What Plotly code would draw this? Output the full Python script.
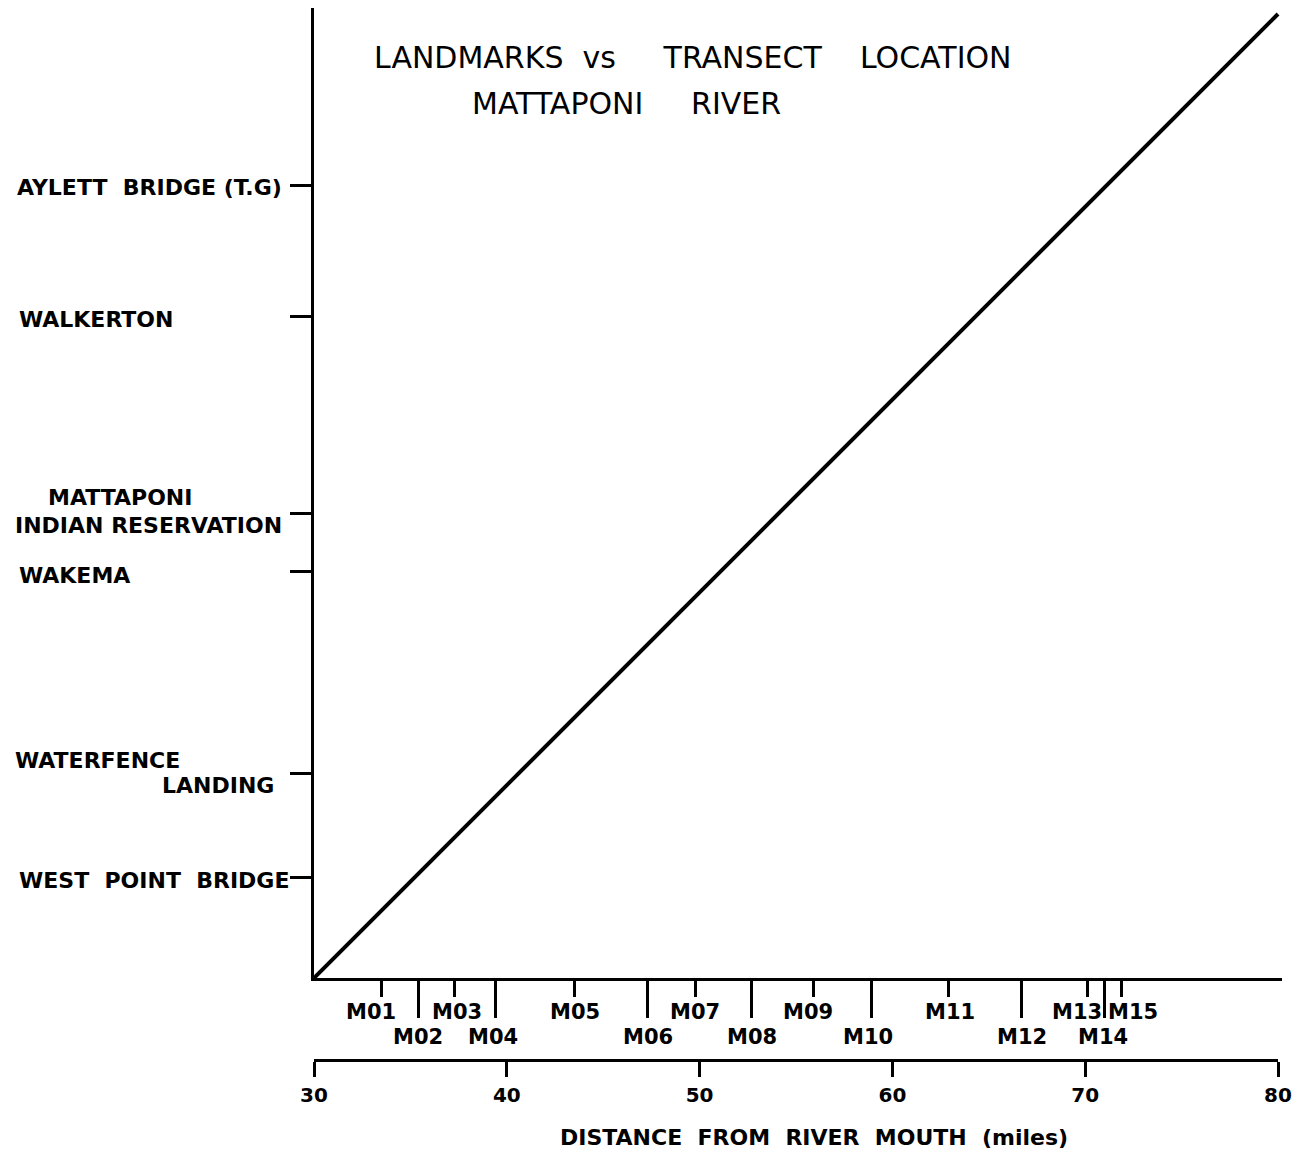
import plotly.graph_objects as go

# ---------------- data ----------------
transect_names = ["M01", "M02", "M03", "M04", "M05", "M06", "M07", "M08",
                  "M09", "M10", "M11", "M12", "M13", "M14", "M15"]
transect_miles = [33.5, 35.4, 37.3, 39.4, 43.5, 47.3, 49.8, 52.7,
                  55.9, 58.9, 62.9, 66.7, 70.1, 71.0, 71.9]

landmark_names = ["WEST POINT BRIDGE", "WATERFENCE LANDING", "WAKEMA",
                  "MATTAPONI INDIAN RESERVATION", "WALKERTON", "AYLETT BRIDGE (T.G)"]
landmark_miles = [35.2, 40.6, 51.1, 54.1, 64.3, 71.1]

# 1:1 relation line (transect location vs landmark location)
line_miles_x = [30, 80]
line_miles_y = [30, 80]

distance_ticks = [30, 40, 50, 60, 70, 80]

# ---------------- styling ----------------
W, H = 1297, 1158
L_PX, R_PX = 314, 1282       # plot area left/right (pixels)
TOP_PX, BOT_PX = 8, 1060     # plot area top/bottom (pixels)
AXIS_PX = 978                # main x axis line
PX_PER_MILE = 19.28

plot_w = R_PX - L_PX
plot_h = BOT_PX - TOP_PX
ydom0 = (BOT_PX - AXIS_PX) / plot_h
x_max = 30 + plot_w / PX_PER_MILE
y_max = 30 + (AXIS_PX - TOP_PX) / PX_PER_MILE
x2_dom1 = (80 - 30) * PX_PER_MILE / plot_w

FONT = "DejaVu Sans"
BLACK = "black"
CLEAR = "rgba(0,0,0,0)"

short_idx = [i for i in range(len(transect_names)) if i % 2 == 0]
long_idx = [i for i in range(len(transect_names)) if i % 2 == 1]
label_xshift = [-10, 0, 2, -2, 1, 0, -1, 0, -5, -3, 2, 0, -10, -1, 11]

fig = go.Figure()

fig.add_trace(go.Scatter(x=line_miles_x, y=line_miles_y, mode="lines",
                         line=dict(color=BLACK, width=4), hoverinfo="skip",
                         showlegend=False))
# invisible anchors so the extra axes are drawn
for ax in ["x2", "x3", "x4"]:
    fig.add_trace(go.Scatter(x=[30], y=[30], xaxis=ax, yaxis="y", mode="markers",
                             marker=dict(opacity=0), hoverinfo="skip", showlegend=False))

common = dict(showgrid=False, zeroline=False, automargin=False)

fig.update_layout(
    width=W, height=H,
    margin=dict(l=L_PX, r=W - R_PX, t=TOP_PX, b=H - BOT_PX, pad=0, autoexpand=False),
    paper_bgcolor="white", plot_bgcolor=CLEAR,
    showlegend=False,
    xaxis=dict(range=[30, x_max], domain=[0, 1], anchor="y", showline=True,
               linecolor=BLACK, linewidth=3, ticks="", showticklabels=False, **common),
    xaxis3=dict(range=[30, x_max], overlaying="x", anchor="y", side="bottom",
                showline=False, ticks="outside", ticklen=18, tickwidth=3,
                tickcolor=BLACK, tickmode="array",
                tickvals=[transect_miles[i] for i in short_idx],
                showticklabels=False, **common),
    xaxis4=dict(range=[30, x_max], overlaying="x", anchor="y", side="bottom",
                showline=False, ticks="outside", ticklen=39, tickwidth=3,
                tickcolor=BLACK, tickmode="array",
                tickvals=[transect_miles[i] for i in long_idx],
                showticklabels=False, **common),
    xaxis2=dict(range=[30, 80], domain=[0, x2_dom1], anchor="free", position=0,
                showline=True, linecolor=BLACK, linewidth=3,
                ticks="outside", ticklen=15, tickwidth=3, tickcolor=BLACK,
                tickmode="array", tickvals=distance_ticks,
                ticktext=[str(v) for v in distance_ticks],
                ticklabelstandoff=1,
                tickfont=dict(family=FONT, size=20, color=BLACK, weight="bold"),
                **common),
    yaxis=dict(range=[30, y_max], domain=[ydom0, 1], anchor="x", showline=True,
               linecolor=BLACK, linewidth=3, ticks="outside", ticklen=21,
               tickwidth=3, tickcolor=BLACK, tickmode="array",
               tickvals=landmark_miles, showticklabels=False, **common),
)

ann = []
# transect labels
for i, (name, m) in enumerate(zip(transect_names, transect_miles)):
    row_center = 1012 if i % 2 == 0 else 1037
    ann.append(dict(x=m, xref="x", y=ydom0, yref="paper", text=name,
                    showarrow=False, xanchor="center", yanchor="middle",
                    xshift=label_xshift[i], yshift=-(row_center - AXIS_PX),
                    font=dict(family=FONT, size=21, color=BLACK, weight="bold")))

# landmark labels: (text line, left px, yshift px)
label_layout = {
    "WEST POINT BRIDGE": [("WEST  POINT  BRIDGE", 17, -3)],
    "WATERFENCE LANDING": [("WATERFENCE", 13, 13), ("LANDING", 160, -12)],
    "WAKEMA": [("WAKEMA", 17, -4)],
    "MATTAPONI INDIAN RESERVATION": [("MATTAPONI", 46, 16),
                                     ("INDIAN RESERVATION", 13, -12)],
    "WALKERTON": [("WALKERTON", 17, -3)],
    "AYLETT BRIDGE (T.G)": [("AYLETT  BRIDGE (T.G)", 15, -2)],
}
for name, m in zip(landmark_names, landmark_miles):
    for txt, left, dy in label_layout[name]:
        ann.append(dict(x=0, xref="paper", y=m, yref="y", text=txt,
                        showarrow=False, xanchor="left", yanchor="middle",
                        xshift=left - L_PX, yshift=dy,
                        font=dict(family=FONT, size=22, color=BLACK, weight="bold")))

# titles
ann.append(dict(x=0, xref="paper", y=1, yref="paper",
                text="LANDMARKS  vs     TRANSECT    LOCATION", showarrow=False,
                xanchor="left", yanchor="middle", xshift=372 - L_PX,
                yshift=-(57 - TOP_PX),
                font=dict(family=FONT, size=30, color=BLACK)))
ann.append(dict(x=0, xref="paper", y=1, yref="paper",
                text="MATTAPONI     RIVER", showarrow=False,
                xanchor="left", yanchor="middle", xshift=470 - L_PX,
                yshift=-(103 - TOP_PX),
                font=dict(family=FONT, size=30, color=BLACK)))
ann.append(dict(x=(814 - L_PX) / plot_w, xref="paper", y=0, yref="paper",
                text="DISTANCE  FROM  RIVER  MOUTH  (miles)", showarrow=False,
                xanchor="center", yanchor="middle", yshift=-(1137 - BOT_PX),
                font=dict(family=FONT, size=22, color=BLACK, weight="bold")))

fig.update_layout(annotations=ann)
fig.write_html("out.html")
